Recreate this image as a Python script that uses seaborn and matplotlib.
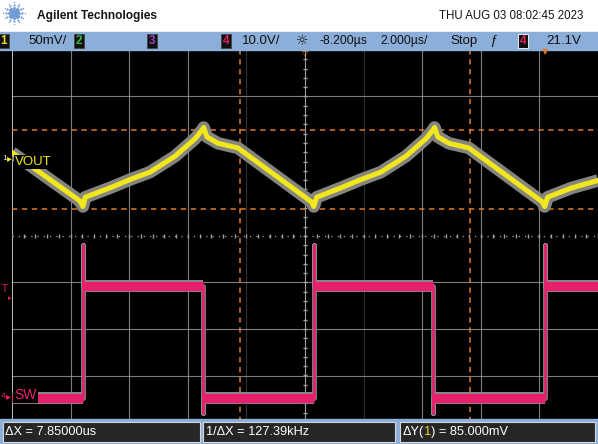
import numpy as np
import pandas as pd
import seaborn as sns
import matplotlib
matplotlib.use("Agg")
import matplotlib.pyplot as plt
from matplotlib.patches import Rectangle

# ---------------- data ----------------
# Channel 1 (VOUT) ripple, 50 mV/div, relative to channel reference marker
vout_t_us = [-18.20, -15.88, -15.78, -15.70, -14.86, -14.17, -13.49, -12.64, -11.95, -11.72,
             -11.66, -11.55, -11.17, -10.49,
             -7.98, -7.90, -7.80, -6.98, -6.29, -5.61, -4.76, -4.07, -3.84, -3.78,
             -3.67, -3.29, -2.61,
             -0.10, -0.02, 0.08, 0.90, 1.80]
vout_mv = [8, -44, -50, -40, -30, -21, -13, 4, 23, 32,
           35, 25, 18, 13,
           -45, -50, -40, -30, -21, -13, 4, 23, 32, 35,
           25, 18, 13,
           -45, -50, -40, -30, -22]

# Channel 4 (SW) switch node, 10 V/div
sw_rise_us = [-15.78, -7.89, -0.01]
sw_fall_us = [-11.68, -3.82]
sw_high_v = 24.0
sw_low_v = 0.0
sw_spike_v = 33.0
sw_under_v = -3.3

# Cursors
cursor_x_us = [-10.43, -2.58]
cursor_y_mv = [32.3, -52.7]

# Scope settings / readouts
time_per_div_us = 2.0
delay_us = -8.2
vout_mv_per_div = 50.0
sw_v_per_div = 10.0
vout_ref_div = 1.634
sw_ref_div = -3.484

header_title = "Agilent Technologies"
header_date = "THU AUG 03 08:02:45 2023"
readouts = ["\u0394X = 7.85000us", "1/\u0394X = 127.39kHz", "\u0394Y(1) = 85.000mV"]

# ---------------- figure ----------------
W, H = 598, 444
FONT = "Liberation Sans"
plt.rcParams["font.family"] = [FONT, "DejaVu Sans"]

fig = plt.figure(figsize=(W / 100, H / 100), dpi=100, facecolor="black")


def fx(px):
    return px / W


def fy(py):
    return 1 - py / H


scr_top, scr_bot = 50, 422
ax = fig.add_axes([fx(12), fy(scr_bot), (W - 12) / W, (scr_bot - scr_top) / H])
x0 = delay_us - 5 * time_per_div_us
x1 = delay_us + 5 * time_per_div_us
ax.set_xlim(x0, x1)
ax.set_ylim(-4, 4)
ax.set_axis_off()

# graticule
grid_col = "#8c8c8c"
for k in range(1, 10):
    t = x0 + k * time_per_div_us
    if k == 5:
        continue
    a = 0.35 if k in (4, 6) else 0.9
    ax.axvline(t, color=grid_col, lw=0.8, alpha=a, zorder=1)
for k in (-3, -2, -1, 3):
    ax.axhline(k, color=grid_col, lw=0.8, alpha=0.9, zorder=1)
ax.axvline(x0, color="#d0d0d0", lw=1.3, zorder=1)
# center lines
ax.axhline(0, color="#a0a0a0", lw=0.9, ls=(0, (1, 4)), zorder=1)
ax.axvline(delay_us, color="#a0a0a0", lw=0.8, zorder=1)
ticks_x = np.arange(x0, x1 + 0.01, time_per_div_us / 5)
ax.plot(ticks_x, np.zeros_like(ticks_x), ls="none", marker="|", ms=3, color="#a0a0a0", zorder=1)
ticks_y = np.arange(-4, 4.01, 0.2)
ax.plot(np.full_like(ticks_y, delay_us), ticks_y, ls="none", marker="_", ms=3, color="#a0a0a0", zorder=1)

# cursors
cur_col = "#e07a2a"
for t in cursor_x_us:
    ax.axvline(t, color=cur_col, lw=1.1, ls=(0, (3.5, 3)), zorder=2)

# VOUT axis
ax_v = ax.twinx()
ax_v.set_ylim((-4 - vout_ref_div) * vout_mv_per_div, (4 - vout_ref_div) * vout_mv_per_div)
ax_v.set_axis_off()
for v in cursor_y_mv:
    ax_v.axhline(v, color=cur_col, lw=1.1, ls=(0, (3.5, 3)), zorder=2)

vdf = pd.DataFrame({"t": vout_t_us, "mv": vout_mv})
sns.lineplot(data=vdf, x="t", y="mv", ax=ax_v, sort=False, estimator=None, legend=False,
             color="#85857f", lw=9.0, solid_joinstyle="round", solid_capstyle="butt", zorder=3)
sns.lineplot(data=vdf, x="t", y="mv", ax=ax_v, sort=False, estimator=None, legend=False,
             color="#f2e61c", lw=3.6, solid_joinstyle="round", zorder=4)
ax_v.set_xlim(x0, x1)

# SW axis
ax_sw = ax.twinx()
ax_sw.set_ylim((-4 - sw_ref_div) * sw_v_per_div, (4 - sw_ref_div) * sw_v_per_div)
ax_sw.set_axis_off()

events = sorted([(t, "r") for t in sw_rise_us] + [(t, "f") for t in sw_fall_us])
sw_t, sw_v = [x0], [sw_low_v]
segs = []
start, level = x0, sw_low_v
for t, kind in events:
    segs.append((start, t, level))
    if kind == "r":
        sw_t += [t, t, t]
        sw_v += [sw_low_v, sw_spike_v, sw_high_v]
        level = sw_high_v
    else:
        sw_t += [t, t, t]
        sw_v += [sw_high_v, sw_under_v, sw_low_v]
        level = sw_low_v
    start = t
segs.append((start, x1, level))
sw_t.append(x1)
sw_v.append(level)

sdf = pd.DataFrame({"t": sw_t, "v": sw_v})
sns.lineplot(data=sdf, x="t", y="v", ax=ax_sw, sort=False, estimator=None, legend=False,
             color="#7d9494", lw=3.4, zorder=3)
for a, b, lv in segs:
    seg = pd.DataFrame({"t": [a, b], "v": [lv, lv]})
    sns.lineplot(data=seg, x="t", y="v", ax=ax_sw, sort=False, estimator=None, legend=False,
                 color="#7d9494", lw=8.6, solid_capstyle="butt", zorder=3)
for a, b, lv in segs:
    seg = pd.DataFrame({"t": [a, b], "v": [lv, lv]})
    sns.lineplot(data=seg, x="t", y="v", ax=ax_sw, sort=False, estimator=None, legend=False,
                 color="#e8206c", lw=6.8, solid_capstyle="butt", zorder=4)
sns.lineplot(data=sdf, x="t", y="v", ax=ax_sw, sort=False, estimator=None, legend=False,
             color="#e8206c", lw=2.0, zorder=4)
ax_sw.set_xlim(x0, x1)

# ---------------- header / bars ----------------
fig.add_artist(Rectangle((0, fy(32)), 1, 32 / H, transform=fig.transFigure, color="white", zorder=1))
bar_col = "#8cafda"
fig.add_artist(Rectangle((0, fy(50)), 1, 18 / H, transform=fig.transFigure, color=bar_col, zorder=1))
fig.add_artist(Rectangle((0, 0), 1, fy(419), transform=fig.transFigure, color=bar_col, zorder=1))

# logo
lax = fig.add_axes([fx(2), fy(25), 24 / W, 24 / H])
lax.set_zorder(10)
lax.set_xlim(-1, 1)
lax.set_ylim(-1, 1)
lax.set_axis_off()
for ang in np.linspace(0, 2 * np.pi, 12, endpoint=False):
    for r, s in ((0.2, 2.6), (0.42, 2.2), (0.64, 1.6), (0.88, 1.0)):
        lax.plot(r * np.cos(ang), r * np.sin(ang), "o", ms=s, color="#6f9ad6", mew=0)

fig.text(fx(37), fy(16), header_title, fontsize=8.6, fontweight="bold", color="#151515",
         va="center", ha="left")
fig.text(fx(583), fy(16), header_date, fontsize=8.3, color="#151515", va="center", ha="right")


def chbox(px, s, col, ec="#444444"):
    fig.text(fx(px), fy(41), s, fontsize=8.5, color=col, ha="center", va="center", zorder=5,
             fontweight="bold",
             bbox=dict(boxstyle="square,pad=0.12", fc="#101010", ec=ec, lw=0.6))


chbox(4, "1", "#e8d820")
chbox(79, "2", "#30c040")
chbox(152, "3", "#a040d0")
chbox(226, "4", "#e02060")
chbox(523, "4", "#e02060", ec="white")
sb = dict(fontsize=9.5, color="#101010", va="center", zorder=5)
fig.text(fx(28), fy(41), "50mV/", ha="left", **sb)
fig.text(fx(242), fy(41), "10.0V/", ha="left", **sb)
fig.text(fx(302), fy(41), "\u263c", ha="center", fontsize=10, color="#101010", va="center",
         family="DejaVu Sans", zorder=5)
sb2 = dict(sb, fontsize=8.8)
fig.text(fx(319), fy(41), "-8.200\u00b5s", ha="left", **sb2)
fig.text(fx(380), fy(41), "2.000\u00b5s/", ha="left", **sb2)
fig.text(fx(450), fy(41), "Stop", ha="left", **sb)
fig.text(fx(493), fy(41), "\u0192", ha="center", fontsize=9.5, color="#101010", va="center",
         style="italic", zorder=5)
fig.text(fx(546), fy(41), "21.1V", ha="left", **sb)

# top markers
fig.text(fx(305), fy(53), "\u25bd", ha="center", va="center", fontsize=6, color=cur_col,
         family="DejaVu Sans", zorder=6)
fig.text(fx(545), fy(52), "\u25bc", ha="center", va="center", fontsize=6, color=cur_col,
         family="DejaVu Sans", zorder=6)

# channel labels on the left
fig.text(fx(2), fy(158), "1", fontsize=6, color="#e8e8e8", ha="left", va="center", zorder=6)
fig.text(fx(7), fy(158), "\u25b8", fontsize=7, color="#f2e61c", ha="left", va="center",
         family="DejaVu Sans", zorder=6)
fig.text(fx(15), fy(162), "VOUT", fontsize=9.5, color="#f2e61c", ha="left", va="center", zorder=6,
         bbox=dict(boxstyle="square,pad=0.1", fc="black", ec="none"))
fig.text(fx(2), fy(289), "T", fontsize=7, color="#e8206c", ha="left", va="center", zorder=6)
fig.text(fx(8), fy(298), "\u25b8", fontsize=5, color="#e8206c", ha="left", va="center",
         family="DejaVu Sans", zorder=6)
fig.text(fx(1), fy(396), "4", fontsize=6, color="#e8206c", ha="left", va="center", zorder=6)
fig.text(fx(6), fy(396), "\u25b8", fontsize=7, color="#e8206c", ha="left", va="center",
         family="DejaVu Sans", zorder=6)
fig.text(fx(14), fy(395), "SW", fontsize=10, color="#e8206c", ha="left", va="center", zorder=6,
         bbox=dict(boxstyle="square,pad=0.1", fc="black", ec="none"))

# bottom readout boxes
boxes = [(3, 200), (203, 395), (400, 595)]
for (a, b) in boxes:
    fig.add_artist(Rectangle((fx(a), fy(442)), (b - a) / W, 20 / H, transform=fig.transFigure,
                             fc="#262626", ec="#d8d8d8", lw=0.8, zorder=2))
rb = dict(fontsize=9.2, color="white", va="center", ha="left", zorder=6)
fig.text(fx(5), fy(432), readouts[0], **rb)
fig.text(fx(206), fy(432), readouts[1], **rb)
# third readout with yellow channel number
fig.canvas.draw()
r = fig.canvas.get_renderer()
t1 = fig.text(fx(403), fy(432), "\u0394Y(", **rb)
w1 = t1.get_window_extent(r).width
t2 = fig.text(fx(403 + w1), fy(432), "1", fontsize=9.2, color="#e8d820", va="center", ha="left", zorder=6)
w2 = t2.get_window_extent(r).width
fig.text(fx(403 + w1 + w2), fy(432), ") = 85.000mV", **rb)

fig.savefig("out.png", dpi=100, facecolor="black")
